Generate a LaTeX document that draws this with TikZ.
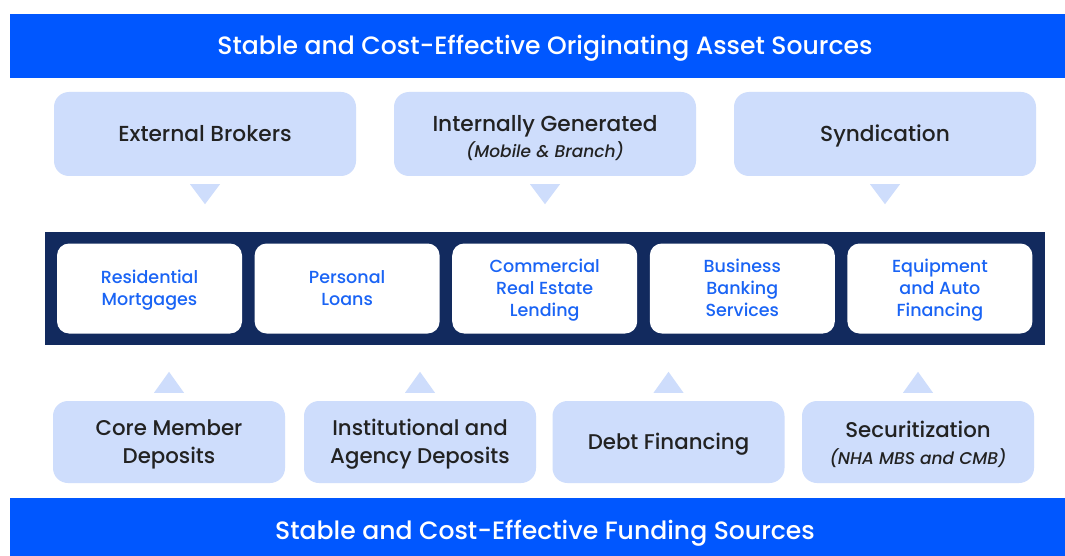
\documentclass[tikz,border=0pt]{standalone}
\usepackage{fontspec}
\setmainfont{Poppins}[UprightFont={* Medium}, ItalicFont={* Medium Italic}]
\usetikzlibrary{calc}
\definecolor{bannerblue}{HTML}{0057FF}
\definecolor{paleblue}{HTML}{CEDDFC}
\definecolor{navy}{HTML}{122A5E}
\definecolor{linkblue}{HTML}{1A64F5}
\definecolor{ink}{HTML}{222222}
% uniform line strut: height minus depth equals the cap height
\newcommand\lstrut{\rule[-0.27em]{0pt}{1.24em}}
\newcommand\subline{\fontsize{17}{21}\selectfont\itshape}
\tikzset{
  banner/.style={fill=bannerblue, text=white, inner sep=0pt,
    minimum width=1070pt, text depth=0pt, font=\fontsize{25.1}{30}\selectfont},
  source/.style={fill=paleblue, text=ink, rounded corners=15pt, inner sep=0pt,
    align=center, font=\fontsize{21.3}{27.5}\selectfont},
  uppersource/.style={source, minimum width=302pt, minimum height=84pt,
    font=\fontsize{21.7}{27.5}\selectfont},
  lowersource/.style={source, minimum width=232pt, minimum height=82pt},
  caption/.style={text=ink, inner sep=0pt, align=center},
  product/.style={fill=white, text=linkblue, rounded corners=12pt, inner sep=0pt,
    minimum width=185pt, minimum height=90pt, align=center,
    font=\fontsize{17.5}{22}\selectfont},
  pointer/.style={fill=paleblue}
}
\begin{document}
\begin{tikzpicture}[x=1pt,y=-1pt]
\useasboundingbox (0,0) rectangle (1065,556);
\fill[white] (0,0) rectangle (1065,556);

% headline banners (they run on past the right edge)
\node[banner, minimum height=64pt, text height=17.5pt] (origin) at (545,46)
  {Stable and Cost-Effective Originating Asset Sources};
\node[banner, minimum height=58pt, text height=25.5pt] (funding) at (545,527)
  {Stable and Cost-Effective Funding Sources};

% origination channels
\node[uppersource] (brokers) at (205,134) {\lstrut External Brokers};
\node[uppersource] (internal) at (545,134) {};
\node[caption, font=\fontsize{21.7}{27.5}\selectfont] (internal-text) at ([yshift=-4pt]internal.center)
  {Internally Generated\\[-2pt]{\subline(Mobile \& Branch)}};
\node[uppersource] (synd) at (885,134) {\lstrut Syndication};

% lending products
\node[fill=navy, minimum width=1000pt, minimum height=113pt, inner sep=0pt] (band) at (545,288.5) {};
\node[product] (resi) at (149.5,288.5) {\lstrut Residential\\\lstrut Mortgages};
\node[product] (pers) at (347.1,288.5) {\lstrut Personal\\\lstrut Loans};
\node[product] (cre)  at (544.7,288.5) {\lstrut Commercial\\\lstrut Real Estate\\\lstrut Lending};
\node[product] (bus)  at (742.3,288.5) {\lstrut Business\\\lstrut Banking\\\lstrut Services};
\node[product] (equip) at (939.9,288.5) {\lstrut Equipment\\\lstrut and Auto\\\lstrut Financing};

% funding sources
\node[lowersource] (core) at (169,442) {\lstrut Core Member\\\lstrut Deposits};
\node[lowersource] (inst) at (420,442) {\lstrut Institutional and\\\lstrut Agency Deposits};
\node[lowersource] (debt) at (668.5,442) {\lstrut Debt Financing};
\node[lowersource] (secu) at (918,442) {};
\node[caption, font=\fontsize{21.3}{27.5}\selectfont] (secu-text) at ([yshift=-2.5pt]secu.center)
  {Securitization\\[-1pt]{\subline(NHA MBS and CMB)}};

% downward pointers under the origination channels
\foreach \n in {brokers,internal,synd}
  \fill[pointer] ($(\n.south)+(-15,8)$) -- ($(\n.south)+(15,8)$) -- ($(\n.south)+(0,28)$) -- cycle;

% upward pointers above the funding sources
\foreach \n in {core,inst,debt,secu}
  \fill[pointer] ($(\n.north)+(-15,-8)$) -- ($(\n.north)+(15,-8)$) -- ($(\n.north)+(0,-29)$) -- cycle;
\end{tikzpicture}
\end{document}
